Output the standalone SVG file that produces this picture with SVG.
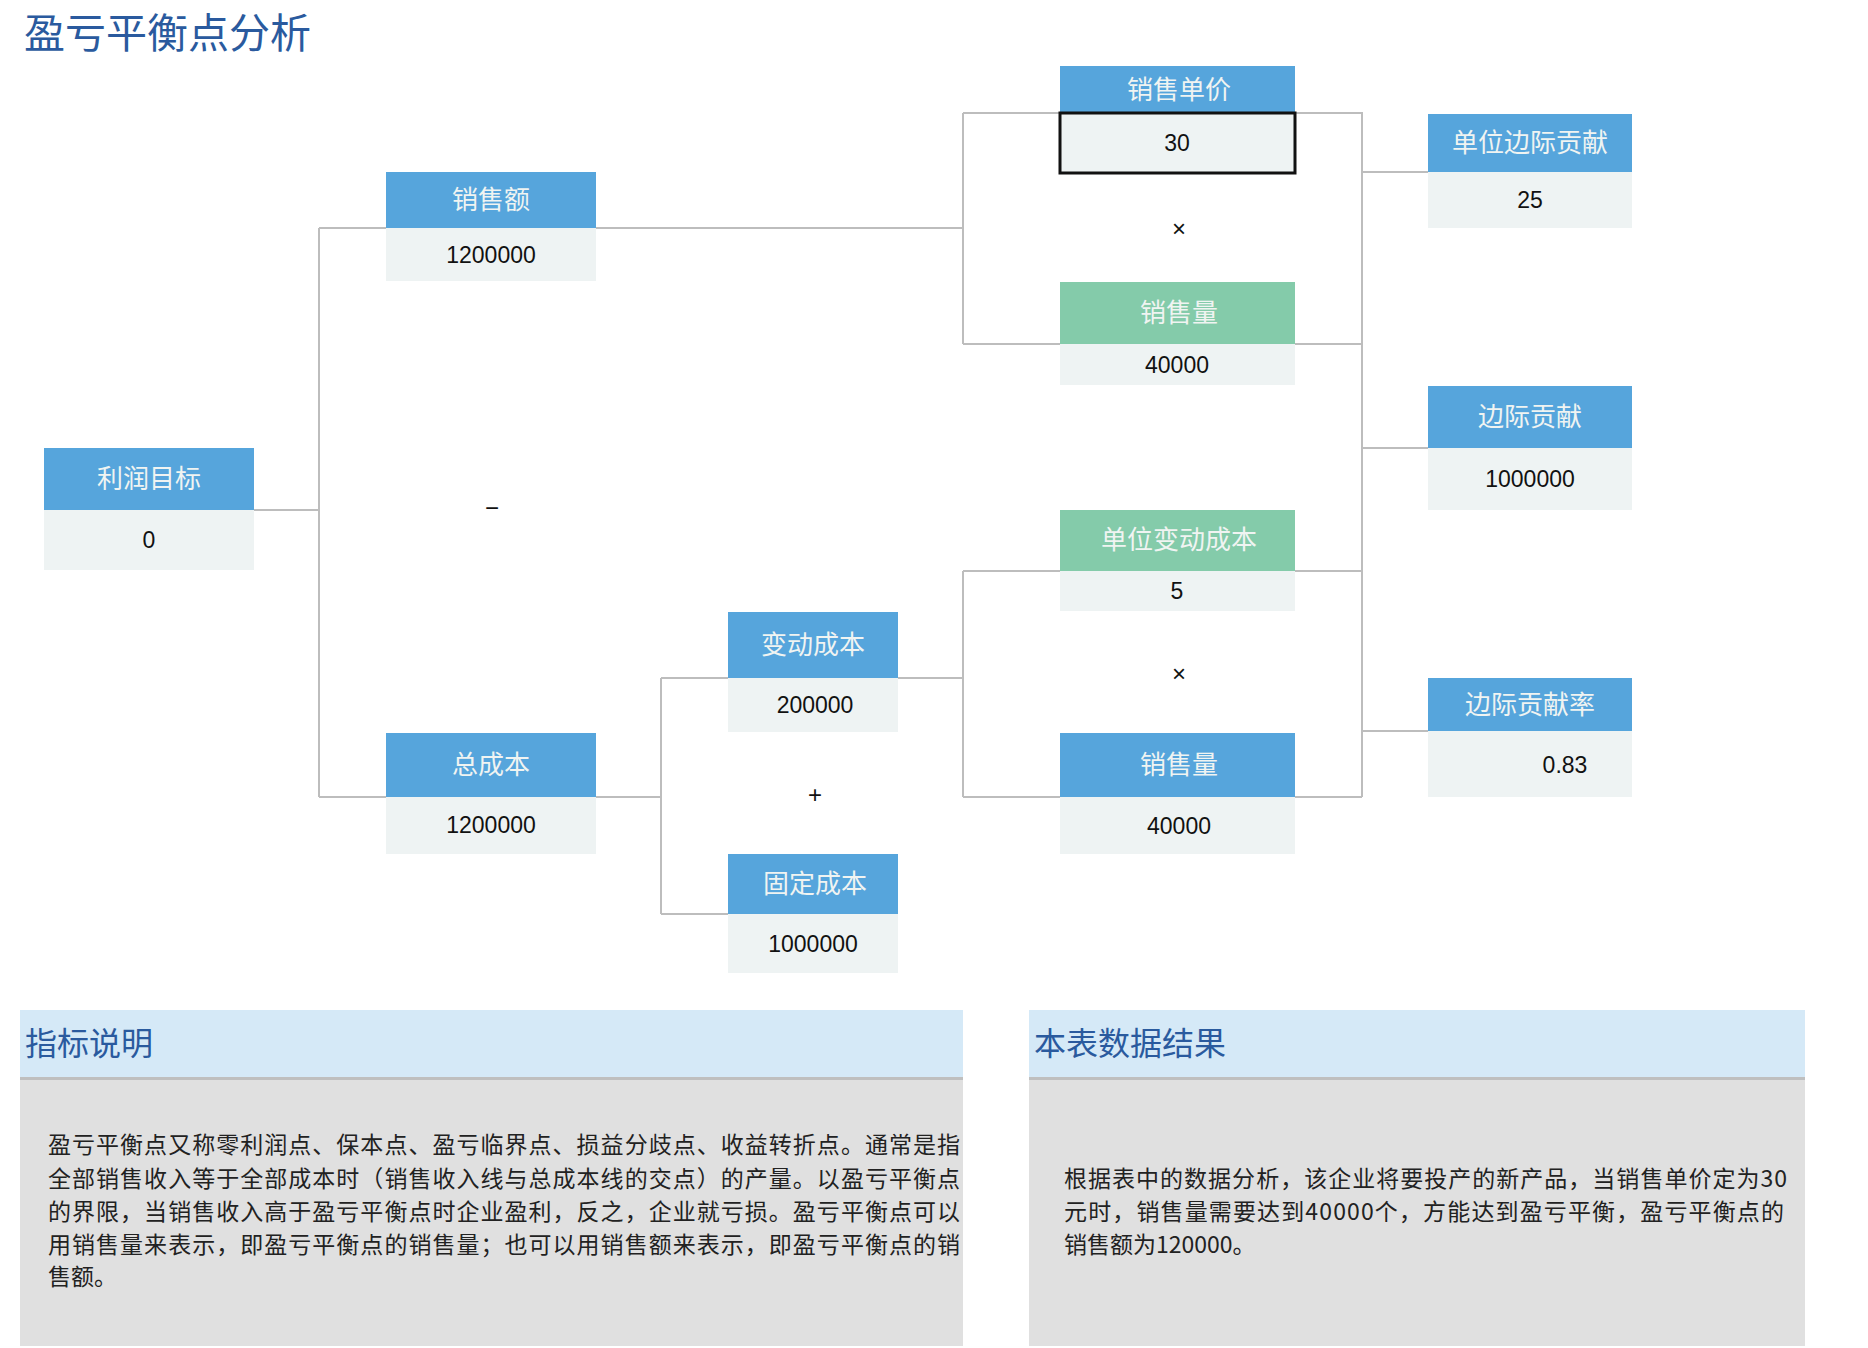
<svg xmlns="http://www.w3.org/2000/svg" width="1868" height="1348" viewBox="0 0 1868 1348">
<style>
text{font-family:"Noto Sans CJK SC","Liberation Sans",sans-serif}
.hb{fill:#56a5dc}.hg{fill:#84cbaa}.vb{fill:#eef3f3}
.ht{fill:#f0f4f2;font-size:26px;text-anchor:middle}
.vt{fill:#111;font-size:23px;text-anchor:middle;font-family:"Liberation Sans","Noto Sans CJK SC",sans-serif}
.op{fill:#111;font-size:24px;text-anchor:middle;font-family:"Liberation Sans",sans-serif}
.cn{fill:none;stroke:#bdbdbd;stroke-width:2}
.pt{fill:#2a5a9e;font-size:32px}
.bt{fill:#222;font-size:23px}
</style>
<rect width="1868" height="1348" fill="#fff"/>
<text x="24" y="48" style="fill:#2a5a9e;font-size:41px">盈亏平衡点分析</text>
<g id="connectors" class="cn">
<path d="M254 510H319M319 228V797M319 228H386M319 797H386"/>
<path d="M596 228H963M963 113V344M963 113H1060M963 344H1060"/>
<path d="M1295 113H1362V797M1295 344H1362M1295 571H1362M1295 797H1362M1362 172H1428M1362 448H1428M1362 731H1428"/>
<path d="M596 797H661M661 678V914M661 678H728M661 914H728"/>
<path d="M897 678H963M963 571V797M963 571H1060M963 797H1060"/>
</g>
<g id="n-profit"><rect class="hb" x="44" y="448" width="210" height="62"/><rect class="vb" x="44" y="510" width="210" height="60"/><text class="ht" x="149" y="488">利润目标</text><text class="vt" x="149" y="548">0</text></g>
<g id="n-sales"><rect class="hb" x="386" y="172" width="210" height="56"/><rect class="vb" x="386" y="228" width="210" height="53"/><text class="ht" x="491" y="209">销售额</text><text class="vt" x="491" y="263">1200000</text></g>
<g id="n-totalcost"><rect class="hb" x="386" y="733" width="210" height="64"/><rect class="vb" x="386" y="797" width="210" height="57"/><text class="ht" x="491" y="774">总成本</text><text class="vt" x="491" y="833">1200000</text></g>
<g id="n-varcost"><rect class="hb" x="728" y="612" width="170" height="66"/><rect class="vb" x="728" y="678" width="170" height="54"/><text class="ht" x="813" y="654">变动成本</text><text class="vt" x="815" y="713">200000</text></g>
<g id="n-fixcost"><rect class="hb" x="728" y="854" width="170" height="60"/><rect class="vb" x="728" y="914" width="170" height="59"/><text class="ht" x="815" y="893">固定成本</text><text class="vt" x="813" y="952">1000000</text></g>
<g id="n-price"><rect class="hb" x="1060" y="66" width="235" height="47"/><rect class="vb" x="1060" y="113" width="235" height="60" stroke="#111" stroke-width="3"/><text class="ht" x="1179" y="99">销售单价</text><text class="vt" x="1177" y="151">30</text></g>
<g id="n-qty1"><rect class="hg" x="1060" y="282" width="235" height="62"/><rect class="vb" x="1060" y="344" width="235" height="41"/><text class="ht" x="1179" y="322">销售量</text><text class="vt" x="1177" y="373">40000</text></g>
<g id="n-unitvar"><rect class="hg" x="1060" y="510" width="235" height="61"/><rect class="vb" x="1060" y="571" width="235" height="40"/><text class="ht" x="1179" y="549">单位变动成本</text><text class="vt" x="1177" y="599">5</text></g>
<g id="n-qty2"><rect class="hb" x="1060" y="733" width="235" height="64"/><rect class="vb" x="1060" y="797" width="235" height="57"/><text class="ht" x="1179" y="774">销售量</text><text class="vt" x="1179" y="834">40000</text></g>
<g id="n-unitmargin"><rect class="hb" x="1428" y="114" width="204" height="58"/><rect class="vb" x="1428" y="172" width="204" height="56"/><text class="ht" x="1530" y="152">单位边际贡献</text><text class="vt" x="1530" y="208">25</text></g>
<g id="n-margin"><rect class="hb" x="1428" y="386" width="204" height="62"/><rect class="vb" x="1428" y="448" width="204" height="62"/><text class="ht" x="1530" y="426">边际贡献</text><text class="vt" x="1530" y="487">1000000</text></g>
<g id="n-marginrate"><rect class="hb" x="1428" y="678" width="204" height="53"/><rect class="vb" x="1428" y="731" width="204" height="66"/><text class="ht" x="1530" y="714">边际贡献率</text><text class="vt" x="1565" y="773">0.83</text></g>
<g id="ops">
<text class="op" x="492" y="516">−</text>
<text class="op" x="1179" y="237">×</text>
<text class="op" x="1179" y="682">×</text>
<text class="op" x="815" y="803">+</text>
</g>
<g id="panel-left">
<rect x="20" y="1010" width="943" height="67" fill="#d5e9f7"/>
<rect x="20" y="1077" width="943" height="3" fill="#bfbfbf"/>
<rect x="20" y="1080" width="943" height="266" fill="#e0e0e0"/>
<text class="pt" x="25" y="1055">指标说明</text>
<text class="bt" x="48" y="1153" textLength="912" lengthAdjust="spacing">盈亏平衡点又称零利润点、保本点、盈亏临界点、损益分歧点、收益转折点。通常是指</text>
<text class="bt" x="48" y="1187" textLength="912" lengthAdjust="spacing">全部销售收入等于全部成本时（销售收入线与总成本线的交点）的产量。以盈亏平衡点</text>
<text class="bt" x="48" y="1220" textLength="912" lengthAdjust="spacing">的界限，当销售收入高于盈亏平衡点时企业盈利，反之，企业就亏损。盈亏平衡点可以</text>
<text class="bt" x="48" y="1253" textLength="912" lengthAdjust="spacing">用销售量来表示，即盈亏平衡点的销售量；也可以用销售额来表示，即盈亏平衡点的销</text>
<text class="bt" x="48" y="1285">售额。</text>
</g>
<g id="panel-right">
<rect x="1029" y="1010" width="776" height="67" fill="#d5e9f7"/>
<rect x="1029" y="1077" width="776" height="3" fill="#bfbfbf"/>
<rect x="1029" y="1080" width="776" height="266" fill="#e0e0e0"/>
<text class="pt" x="1034" y="1055">本表数据结果</text>
<text class="bt" x="1064" y="1187" textLength="723" lengthAdjust="spacing">根据表中的数据分析，该企业将要投产的新产品，当销售单价定为30</text>
<text class="bt" x="1064" y="1220" textLength="720" lengthAdjust="spacing">元时，销售量需要达到40000个，方能达到盈亏平衡，盈亏平衡点的</text>
<text class="bt" x="1064" y="1253">销售额为120000。</text>
</g>
</svg>
